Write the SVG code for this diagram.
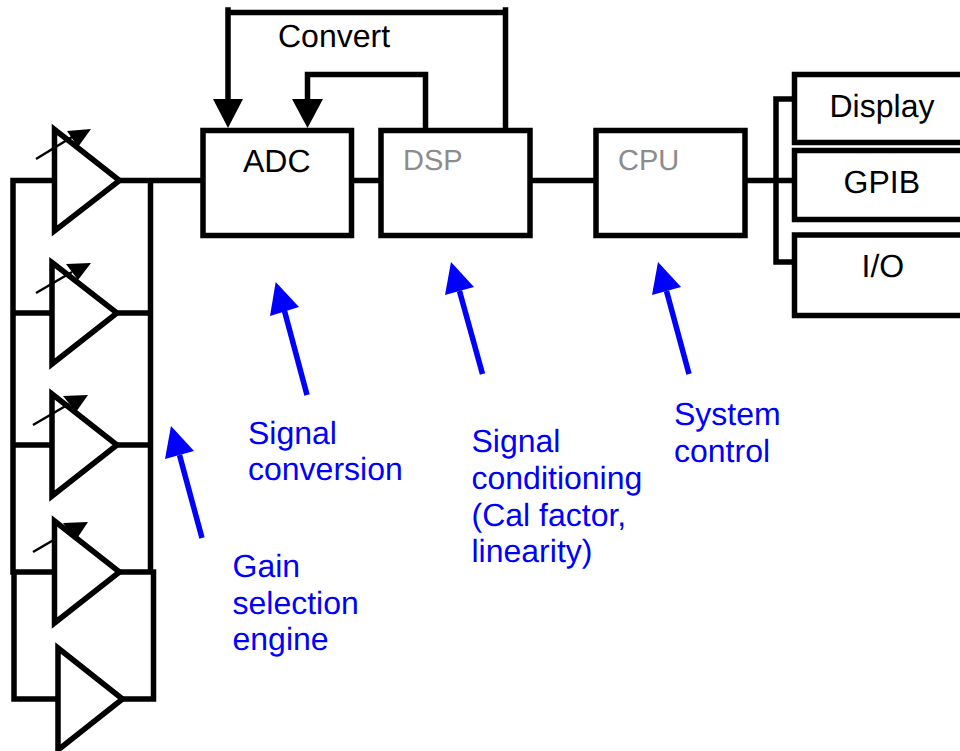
<svg xmlns="http://www.w3.org/2000/svg" width="960" height="751" viewBox="0 0 960 751">
<style>
.w{fill:none;stroke:#000;stroke-width:5.500;stroke-linecap:square}
.box{fill:#fff;stroke:#000;stroke-width:5.500;stroke-linejoin:miter}
.amp{fill:#fff;stroke:#000;stroke-width:5.500;stroke-linejoin:miter}
.tune{fill:none;stroke:#000;stroke-width:2.500}
.h{fill:#000}
.b{fill:none;stroke:#00f;stroke-width:5.500}
.bh{fill:#00f}
text{font-family:"Liberation Sans",Arial,sans-serif;font-size:32px;fill:#000;text-rendering:geometricPrecision}
.g{fill:#8c8c8c;font-size:29px}
.t{fill:#00f}
</style>
<rect width="960" height="751" fill="#fff"/>
<g id="connectors">
<path class="w" d="M13 180.500H54M13 180.500V572M13 313H52M13 445H52M13 572H54M14 572V699H58M122 699H153.500V572H118M150.500 180.500V572M116 313H150M116 445H150M118 180.500H203M351 180.500H381M530 180.500H596M744 180.500H794M776 99H794M776 99V262H794"/>
<path class="w" d="M228 10V108M228 12.500H505.500M505.500 10V130M425.500 130V74.500H307.500V108"/>
<polygon class="h" points="213,99 243,99 228,128"/>
<polygon class="h" points="292,99 323,99 307.500,128"/>
</g>
<g id="amp1"><polygon class="amp" points="54.500,129.500 119.500,180.500 54.500,231"/><path class="tune" d="M36 159L72 137"/><polygon class="h" points="67,131 91,129 78,147"/></g>
<g id="amp2"><polygon class="amp" points="52,262.500 117,313 52,364"/><path class="tune" d="M36 293L72 272"/><polygon class="h" points="66,264 91,263 78,280"/></g>
<g id="amp3"><polygon class="amp" points="52,394 117,445 52,496"/><path class="tune" d="M33 425L69 404"/><polygon class="h" points="63,396 88,395 76,412"/></g>
<g id="amp4"><path class="tune" d="M33 552L69 531"/><polygon class="h" points="63,523 88,522 76,540"/><polygon class="amp" points="54.500,521 119.500,572 54.500,623"/></g>
<g id="amp5"><polygon class="amp" points="58,648 122.500,699 58,750"/></g>
<g id="adc"><rect class="box" x="203" y="130.500" width="148.500" height="105"/><text x="243" y="172">ADC</text></g>
<g id="dsp"><rect class="box" x="381" y="130.500" width="149" height="105"/><text class="g" x="403" y="170">DSP</text></g>
<g id="cpu"><rect class="box" x="596" y="130.500" width="149" height="105"/><text class="g" x="618" y="170">CPU</text></g>
<g id="display"><rect class="box" x="794.500" y="74.500" width="175" height="68"/><text x="829.500" y="117">Display</text></g>
<g id="gpib"><rect class="box" x="794.500" y="150.500" width="175" height="69"/><text x="843.500" y="193">GPIB</text></g>
<g id="io"><rect class="box" x="794.500" y="235" width="175" height="80.500"/><text x="861.500" y="277">I/O</text></g>
<text id="convert" x="278" y="47">Convert</text>
<g id="arrow-signal-conversion"><path class="b" d="M307 395L284.500 311"/><polygon class="bh" points="275.700,282 270,316 299,307"/></g>
<g id="arrow-signal-conditioning"><path class="b" d="M482.500 374L459.500 291"/><polygon class="bh" points="451,262 445,295 474,287"/></g>
<g id="arrow-system-control"><path class="b" d="M689 374L666.500 291"/><polygon class="bh" points="658,262 652,295 681,287"/></g>
<g id="arrow-gain"><path class="b" d="M202 538L179.500 455"/><polygon class="bh" points="171,426 165,459 194,451"/></g>
<g id="label-signal-conversion"><text class="t" x="248" y="444">Signal</text><text class="t" x="248" y="480">conversion</text></g>
<g id="label-signal-conditioning"><text class="t" x="471.500" y="452">Signal</text><text class="t" x="471.500" y="489">conditioning</text><text class="t" x="471.500" y="526">(Cal factor,</text><text class="t" x="471.500" y="562">linearity)</text></g>
<g id="label-system-control"><text class="t" x="674" y="425">System</text><text class="t" x="674" y="462">control</text></g>
<g id="label-gain"><text class="t" x="232.500" y="577">Gain</text><text class="t" x="232.500" y="614">selection</text><text class="t" x="232.500" y="650">engine</text></g>
</svg>
